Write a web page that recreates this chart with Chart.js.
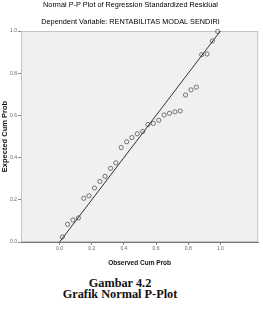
<!DOCTYPE html>
<html>
<head>
<meta charset="utf-8">
<script src="https://cdn.jsdelivr.net/npm/chart.js@4/dist/chart.umd.min.js"></script>
<style>
  html, body { margin: 0; padding: 0; background: #fff; }
  #wrap { position: relative; width: 263px; height: 309px; }
  #chart { position: absolute; left: 0; top: 0; }
  .caption {
    position: absolute; left: 0; width: 240px; top: 278px;
    font-family: "Liberation Serif", "Times New Roman", serif;
    font-weight: bold; font-size: 12.3px; line-height: 11px;
    text-align: center; color: #111;
  }
</style>
</head>
<body>
<div id="wrap">
  <canvas id="chart" width="263" height="270"></canvas>
  <div class="caption">Gambar 4.2<br>Grafik Normal P-Plot</div>
</div>
<script>
// datos
const observedCumProb = [0.017, 0.050, 0.083, 0.117, 0.150, 0.183, 0.217, 0.250, 0.283, 0.317,
                         0.350, 0.383, 0.417, 0.450, 0.483, 0.517, 0.550, 0.583, 0.617, 0.650,
                         0.683, 0.717, 0.750, 0.783, 0.817, 0.850, 0.883, 0.917, 0.950, 0.983];
const expectedCumProb = [0.024, 0.084, 0.104, 0.114, 0.207, 0.219, 0.256, 0.287, 0.311, 0.349,
                         0.375, 0.448, 0.475, 0.495, 0.513, 0.524, 0.557, 0.562, 0.577, 0.602,
                         0.610, 0.617, 0.621, 0.697, 0.721, 0.734, 0.888, 0.891, 0.953, 0.998];
const refLineX = [0, 1];
const refLineY = [0, 1];
const xTickValues = [0.0, 0.2, 0.4, 0.6, 0.8, 1.0];
const yTickValues = [0.0, 0.2, 0.4, 0.6, 0.8, 1.0];

const titleText = 'Normal P-P Plot of Regression Standardized Residual';
const subtitleText = 'Dependent Variable: RENTABILITAS MODAL SENDIRI';

// fondo gris y marco del area del grafico
const plotFrame = {
    id: 'plotFrame',
    beforeDatasetsDraw(chart) {
        const { ctx, chartArea: a } = chart;
        ctx.save();
        ctx.fillStyle = '#f0f0f0';
        ctx.fillRect(a.left, a.top, a.right - a.left, a.bottom - a.top);
        ctx.strokeStyle = '#c4c4c4';
        ctx.lineWidth = 1;
        ctx.strokeRect(a.left + 0.5, a.top + 0.5, a.right - a.left - 1, a.bottom - a.top - 1);
        ctx.restore();
    }
};

const ctx = document.getElementById('chart').getContext('2d');
new Chart(ctx, {
    type: 'scatter',
    data: {
        datasets: [{
            label: 'Observed',
            data: observedCumProb.map((x, i) => ({ x: x, y: expectedCumProb[i] })),
            pointStyle: 'circle',
            pointRadius: 2.1,
            pointBorderWidth: 0.8,
            pointBorderColor: '#555',
            pointBackgroundColor: 'rgba(0,0,0,0)',
            order: 1
        }, {
            label: 'Line',
            data: refLineX.map((x, i) => ({ x: x, y: refLineY[i] })),
            showLine: true,
            borderColor: '#333',
            borderWidth: 1,
            pointRadius: 0,
            order: 0
        }]
    },
    options: {
        responsive: false,
        animation: false,
        clip: false,
        layout: { padding: { left: 0, right: 2, top: 0, bottom: 0 } },
        plugins: {
            legend: { display: false },
            tooltip: { enabled: false },
            title: {
                display: true,
                text: titleText,
                color: '#000',
                font: { family: 'Liberation Sans, Arial', size: 7.3, weight: 'normal', lineHeight: 1.2 },
                padding: { top: 1, bottom: 6 }
            },
            subtitle: {
                display: true,
                text: subtitleText,
                color: '#000',
                font: { family: 'Liberation Sans, Arial', size: 7.3, weight: 'normal', lineHeight: 1.2 },
                padding: { top: 2, bottom: 4.5 }
            }
        },
        scales: {
            x: {
                type: 'linear',
                min: -0.24,
                max: 1.235,
                afterBuildTicks: (s) => { s.ticks = xTickValues.map(v => ({ value: v })); },
                afterFit: (s) => { s.height = 28; },
                ticks: {
                    color: '#666',
                    font: { family: 'Liberation Sans, Arial', size: 5 },
                    padding: 1,
                    callback: (v) => v.toFixed(1)
                },
                grid: { drawOnChartArea: false, drawTicks: true, tickLength: 3, color: '#888' },
                border: { display: true, color: '#777', width: 1 },
                title: {
                    display: true,
                    text: 'Observed Cum Prob',
                    color: '#111',
                    font: { family: 'Liberation Sans, Arial', size: 6.5, weight: 'bold', lineHeight: 1.2 },
                    padding: { top: 0, bottom: 3 }
                }
            },
            y: {
                type: 'linear',
                min: 0,
                max: 1,
                afterBuildTicks: (s) => { s.ticks = yTickValues.map(v => ({ value: v })); },
                afterFit: (s) => { s.width = 21; },
                ticks: {
                    color: '#666',
                    font: { family: 'Liberation Sans, Arial', size: 5 },
                    padding: 1,
                    callback: (v) => v.toFixed(1)
                },
                grid: { drawOnChartArea: false, drawTicks: true, tickLength: 3, color: '#888' },
                border: { display: true, color: '#777', width: 1 },
                title: {
                    display: true,
                    text: 'Expected Cum Prob',
                    color: '#111',
                    font: { family: 'Liberation Sans, Arial', size: 7.5, weight: 'bold', lineHeight: 1.2 },
                    padding: { top: 0, bottom: 0 }
                }
            }
        }
    },
    plugins: [plotFrame]
});
</script>
</body>
</html>
